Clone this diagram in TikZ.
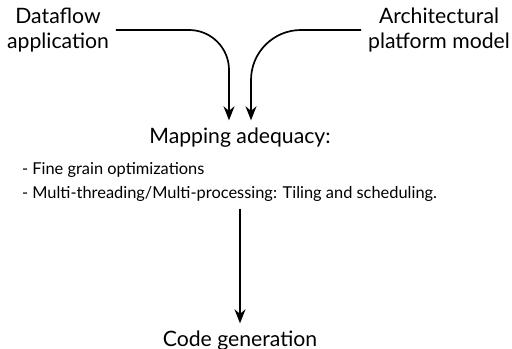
\documentclass[tikz,border=0pt]{standalone}
\usepackage{fontspec}
\setmainfont{Lato}
\usetikzlibrary{arrows.meta}

\begin{document}
\begin{tikzpicture}[x=0.5pt, y=0.5pt]
        \tikzset{
            flow/.style={-{Stealth[length=7pt, width=5.5pt]}, line width=0.85pt},
            big/.style={font=\fontsize{10.6}{12.5}\selectfont},
            small/.style={font=\fontsize{8.2}{12}\selectfont}
        }
        \useasboundingbox (0,0) rectangle (512,348);

        % --- INPUTS ---
        \node (app) at (58,318) [big, align=center] {Dataflow\\application};
        \node (plat) at (439,318) [big, align=center] {Architectural\\platform model};

        % --- MAPPING ---
        \node (map) at (240,205) [big, anchor=base] {Mapping adequacy:};
        \node (tasks) at (15,166) [small, anchor=west, align=left] {- Fine grain optimizations\\- Multi-threading/Multi-processing: Tiling and scheduling.};

        % --- OUTPUT ---
        \node (code) at (240,2) [big, anchor=base] {Code generation};

        \draw[flow, rounded corners=20pt] (app.east) -| ([xshift=-5.5pt]map.north);
        \draw[flow, rounded corners=25pt] (plat.west) -| ([xshift=5.5pt]map.north);
        \draw[flow] (tasks.south -| map.south) -- (code.north);
    \end{tikzpicture}
\end{document}
